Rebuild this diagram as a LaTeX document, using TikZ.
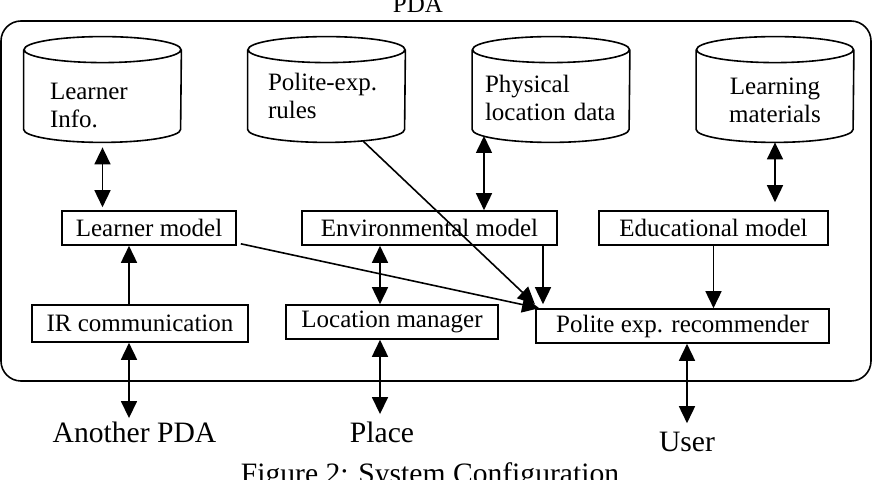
\documentclass[tikz,border=0pt]{standalone}
\usepackage{fontspec}
\setmainfont{Liberation Serif}
\usetikzlibrary{positioning, arrows.meta}

\begin{document}
\begin{tikzpicture}[x=0.5pt, y=-0.5pt,
    box/.style={draw, line width=0.8pt, inner sep=0pt, minimum height=17pt,
                font=\fontsize{12.5}{14}\selectfont},
    db/.style={inner sep=0pt, minimum width=78.5pt, minimum height=52.5pt,
               align=left, text depth=20pt, font=\fontsize{12.5}{14}\selectfont,
               append after command={\pgfextra{\let\dbnode\tikzlastnode
                 \draw[line width=0.8pt]
                   ([yshift=-6.5pt]\dbnode.north) ellipse [x radius=39.25pt, y radius=6.5pt]
                   ([yshift=-6.5pt]\dbnode.north west) -- ([yshift=6.5pt]\dbnode.south west)
                   arc [start angle=180, end angle=360, x radius=39.25pt, y radius=6.5pt]
                   -- ([yshift=-6.5pt]\dbnode.north east);}}},
    ext/.style={inner sep=1pt, font=\fontsize{14.8}{17}\selectfont},
    one/.style={-{Triangle[length=8.5pt, width=8pt]}, line width=0.8pt},
    two/.style={{Triangle[length=8.5pt, width=8pt]}-{Triangle[length=8.5pt, width=8pt]},
                line width=0.8pt}
  ]
    \useasboundingbox (0,0) rectangle (874,480);
    % PDA frame
    \node[draw, line width=0.8pt, rounded corners=10pt, minimum width=435pt,
          minimum height=180pt] (pda) at (436,201) {};
    \node[anchor=base, inner sep=0pt, font=\fontsize{12.5}{14}\selectfont]
          (pdaname) at (418,13) {PDA};
    % data stores
    \node[db, text width=52.5pt, text height=30.5pt]  (linfo) at (102.5,89.5) {Learner\\Info.};
    \node[db, text width=58.5pt, text height=21.25pt] (rules) at (326.5,89.5) {Polite-exp.\\rules};
    \node[db, text width=66pt, text height=23.25pt]   (phys)  at (551,89.5)   {Physical\\location data};
    \node[db, text width=60pt, text height=24.75pt, align=center] (lmat) at (775,89.5) {Learning\\materials};
    % models
    \node[box, minimum width=87pt]    (lmodel)   at (149,228)   {Learner model};
    \node[box, minimum width=127.5pt] (envmodel) at (429.5,228) {Environmental model};
    \node[box, minimum width=114.5pt] (edumodel) at (713.5,228) {Educational model};
    \node[box, minimum width=108pt, minimum height=18.5pt] (ircomm) at (140,323.5) {IR communication};
    \node[box, minimum width=106pt]   (locmgr)   at (392,322)   {Location manager};
    \node[box, minimum width=146.5pt] (recomm)   at (682.5,326) {Polite exp. recommender};
    % outside
    \node[ext, anchor=base] (apda)    at (134.5,443) {Another PDA};
    \node[ext, anchor=base] (place)   at (382,443)   {Place};
    \node[ext, anchor=base] (user)    at (687,452)   {User};
    \node[ext, anchor=base] (caption) at (430,484)   {Figure 2: System Configuration};
    % connectors
    \coordinate (irup)      at ([xshift=-5.5pt]ircomm.north);
    \coordinate (irdn)      at ([xshift=-5.5pt]ircomm.south);
    \coordinate (locup)     at ([xshift=-6pt]locmgr.north);
    \coordinate (locdn)     at ([xshift=-6pt]locmgr.south);
    \coordinate (recdn)     at ([xshift=2.25pt]recomm.south);
    \coordinate (physfoot)  at (484,136);
    \coordinate (rulesfoot) at (363,141);
    \coordinate (envfoot)   at ([xshift=56.75pt]envmodel.south);
    \coordinate (recin)     at ([xshift=2pt]recomm.north west);
    \draw[two, shorten <=2.5pt, shorten >=1.5pt] (linfo.south) -- (linfo.south |- lmodel.north);
    \draw[two] (physfoot) -- (physfoot |- envmodel.north);
    \draw[two, shorten >=4pt] (lmat.south) -- (lmat.south |- edumodel.north);
    \draw[one] (irup) -- (irup |- lmodel.south);
    \draw[two] (locup) -- (locup |- envmodel.south);
    \draw[two, shorten >=1pt] (irdn) -- (irdn |- apda.north);
    \draw[two, shorten >=3pt] (locdn) -- (locdn |- place.north);
    \draw[two, shorten >=3.5pt] (recdn) -- (recdn |- user.north);
    \draw[one] ([xshift=2pt, yshift=1pt]lmodel.south east) -- (recin);
    \draw[one, shorten >=3pt] (rulesfoot) -- (recin);
    \draw[one, shorten >=2pt] (envfoot) -- (envfoot |- recomm.north);
    \draw[one] (edumodel.south) -- (edumodel.south |- recomm.north);
\end{tikzpicture}
\end{document}
